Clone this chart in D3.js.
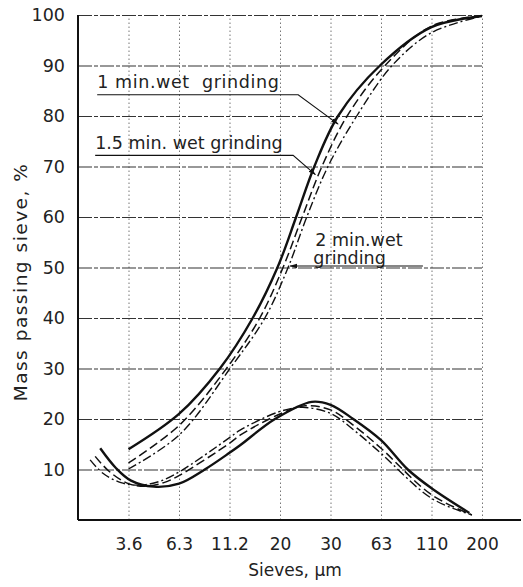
<!DOCTYPE html>
<html>
<head>
<meta charset="utf-8">
<script src="https://cdn.jsdelivr.net/npm/d3@7"></script>
<style>
  body { margin: 0; background: #fff; }
  svg { display: block; font-family: "DejaVu Sans", sans-serif; }
</style>
</head>
<body>
<div id="chart"></div>
<script>
// sieve sizes on the x axis (equally spaced, position 1..8)
const sieves = ["3.6", "6.3", "11.2", "20", "30", "63", "110", "200"];
const yTicks = [10, 20, 30, 40, 50, 60, 70, 80, 90, 100];

// cumulative curves: [sieve position, % passing]
const cum1min = [[1, 14], [2, 21], [2.81, 30], [3.46, 40], [3.95, 50], [4.32, 60], [4.68, 70], [5.15, 80], [5.98, 90], [7, 97.6], [8, 99.8]];
const cum15min = [[1, 11.3], [2, 18.7], [2.94, 30], [3.6, 40], [4.06, 50], [4.44, 60], [4.83, 70], [5.33, 80], [6.08, 90], [7, 97.8], [8, 99.8]];
const cum2min = [[1, 10.1], [2, 16.8], [3.01, 30], [3.7, 40], [4.16, 50], [4.53, 60], [4.95, 70], [5.52, 80], [6.22, 90], [7, 96.5], [8, 99.8]];

// fraction curves
const frac1min = [[0.44, 14.2], [0.75, 10.3], [1.05, 7.8], [1.5, 6.6], [2, 7.2], [2.51, 10], [3, 13.3], [3.21, 14.8], [3.9, 20], [4.63, 23.4], [5, 22.8], [5.45, 20], [6, 15.8], [6.53, 10], [7, 6.3], [7.75, 1.4]];
const frac15min = [[0.34, 12.6], [0.62, 9.6], [1, 7.2], [1.35, 6.7], [1.7, 7.4], [2, 8.8], [3, 15.2], [3.21, 16.8], [4, 21], [4.5, 22.6], [5, 21.8], [5.5, 18.4], [6, 14.2], [7, 5], [7.8, 1]];
const frac2min = [[0.24, 11.9], [0.5, 9.2], [0.85, 7.4], [1.2, 6.9], [1.6, 7.6], [2, 9.5], [3, 16.3], [3.21, 17.8], [4, 21.5], [4.45, 22.3], [5, 21.1], [5.5, 17.5], [6, 13.2], [7, 4.3], [7.8, 1]];

const width = 523, height = 587;

const svg = d3.select("#chart")
  .append("svg")
    .attr("width", width)
    .attr("height", height);

const x = d3.scaleLinear().domain([0, 8]).range([78, 482]);
const y = d3.scaleLinear().domain([0, 100]).range([520, 15]);

// vertical grid (dotted)
svg.append("g")
    .attr("transform", "translate(0,520)")
    .call(d3.axisBottom(x).tickValues(d3.range(1, 9)).tickSize(-505).tickFormat(""))
    .call(g => g.select(".domain").remove())
    .call(g => g.selectAll(".tick line")
      .attr("stroke", "#777")
      .attr("stroke-width", 1)
      .attr("stroke-dasharray", "1.5,2.5"));

// horizontal grid (dashed)
svg.append("g")
    .attr("transform", "translate(78,0)")
    .call(d3.axisLeft(y).tickValues(yTicks).tickSize(-404).tickFormat(""))
    .call(g => g.select(".domain").remove())
    .call(g => g.selectAll(".tick line")
      .attr("stroke", "#333")
      .attr("stroke-width", 1.2)
      .attr("stroke-dasharray", "14,2,4,2"));

// axis lines
svg.append("line")
    .attr("x1", x(0)).attr("x2", 521)
    .attr("y1", y(0)).attr("y2", y(0))
    .attr("stroke", "#111").attr("stroke-width", 2);
svg.append("line")
    .attr("x1", x(0)).attr("x2", x(0))
    .attr("y1", y(0)).attr("y2", y(100))
    .attr("stroke", "#111").attr("stroke-width", 2);

// tick labels
svg.append("g")
    .attr("transform", "translate(0,520)")
    .call(d3.axisBottom(x).tickValues(d3.range(1, 9)).tickSize(0).tickPadding(18)
      .tickFormat(i => sieves[i - 1]))
    .call(g => g.select(".domain").remove())
    .call(g => g.selectAll("text")
      .attr("font-family", "DejaVu Sans, sans-serif")
      .attr("font-size", 17)
      .attr("fill", "#222"));

svg.append("g")
    .attr("transform", "translate(78,0)")
    .call(d3.axisLeft(y).tickValues(yTicks).tickSize(0).tickPadding(13))
    .call(g => g.select(".domain").remove())
    .call(g => g.selectAll("text")
      .attr("font-family", "DejaVu Sans, sans-serif")
      .attr("font-size", 17.5)
      .attr("fill", "#222"));

// axis titles
svg.append("text")
    .attr("x", 295).attr("y", 576)
    .attr("text-anchor", "middle")
    .attr("font-size", 17)
    .attr("fill", "#222")
    .text("Sieves, µm");

svg.append("text")
    .attr("transform", "translate(27,282) rotate(-90)")
    .attr("text-anchor", "middle")
    .attr("font-size", 18.5)
    .attr("letter-spacing", 1.5)
    .attr("fill", "#222")
    .text("Mass passing sieve, %");

// curves
const smooth = d3.line()
    .x(d => x(d[0]))
    .y(d => y(d[1]))
    .curve(d3.curveCatmullRom.alpha(0.5));

const series = [
  { data: cum1min, w: 2.4, dash: null },
  { data: cum15min, w: 1.5, dash: "9,4" },
  { data: cum2min, w: 1.4, dash: "9,3,2,3" },
  { data: frac1min, w: 2.4, dash: null },
  { data: frac15min, w: 1.5, dash: "9,4" },
  { data: frac2min, w: 1.4, dash: "9,3,2,3" }
];

svg.append("g")
  .selectAll("path")
  .data(series)
  .join("path")
    .attr("d", d => smooth(d.data))
    .attr("fill", "none")
    .attr("stroke", "#111")
    .attr("stroke-width", d => d.w)
    .attr("stroke-dasharray", d => d.dash);

// labels with leader lines, positions in chart units
const labels = [
  { text: ["1 min.wet  grinding"], ls: 0.6, tx: 0.38, ty: 85.5, ul: [0.38, 4.36, 84.2], tip: [5.15, 78.4] },
  { text: ["1.5 min. wet grinding"], ls: 0, tx: 0.34, ty: 73.4, ul: [0.34, 4.26, 72.2], tip: [4.7, 68.4] },
  { text: ["2 min.wet", "grinding"], ls: 0, tx: 4.7, ty: 54.3, ul: [6.83, 4.32, 50.3], tip: [4.2, 50.3] }
];

svg.append("defs").append("marker")
    .attr("id", "arr")
    .attr("viewBox", "0 0 10 10")
    .attr("refX", 9).attr("refY", 5)
    .attr("markerWidth", 7).attr("markerHeight", 7)
    .attr("orient", "auto")
  .append("path")
    .attr("d", "M0,2 L10,5 L0,8 z")
    .attr("fill", "#111");

const lab = svg.append("g");
labels.forEach(l => {
  const t = lab.append("text")
      .attr("x", x(l.tx)).attr("y", y(l.ty))
      .attr("font-size", 17.5)
      .attr("letter-spacing", l.ls)
      .attr("fill", "#222")
      .style("white-space", "pre");
  l.text.forEach((s, i) => {
    t.append("tspan")
        .attr("x", x(l.tx) - i * 2)
        .attr("dy", i === 0 ? 0 : 18.5)
        .text(s);
  });
  lab.append("polyline")
      .attr("points", [[x(l.ul[0]), y(l.ul[2])], [x(l.ul[1]), y(l.ul[2])], [x(l.tip[0]), y(l.tip[1])]].map(p => p.join(",")).join(" "))
      .attr("fill", "none")
      .attr("stroke", "#111")
      .attr("stroke-width", 1.1)
      .attr("marker-end", "url(#arr)");
});
</script>
</body>
</html>
